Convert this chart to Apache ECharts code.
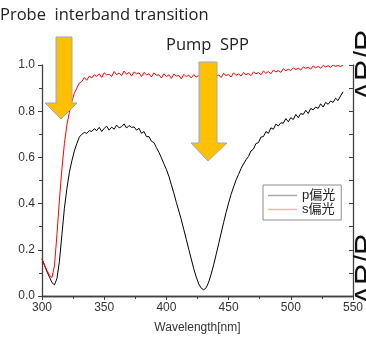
<!DOCTYPE html>
<html>
<head>
<meta charset="utf-8">
<script src="https://cdn.jsdelivr.net/npm/echarts@6/dist/echarts.min.js"></script>
<style>
  html, body { margin: 0; padding: 0; background: #fff; }
  #chart { width: 366px; height: 340px; }
</style>
</head>
<body>
<div id="chart"></div>
<script>
// wavelength samples (nm)
const wavelength = [
  300, 302, 304, 306, 308, 310, 312, 314, 316, 318, 320, 322, 324, 326, 328, 330, 332, 334, 336, 338,
  340, 342, 344, 346, 348, 350, 352, 354, 356, 358, 360, 362, 364, 366, 368, 370, 372, 374, 376, 378,
  380, 382, 384, 386, 388, 390, 392, 394, 396, 398, 400, 402, 404, 406, 408, 410, 412, 414, 416, 418,
  420, 422, 424, 426, 428, 430, 432, 434, 436, 438, 440, 442, 444, 446, 448, 450, 452, 454, 456, 458,
  460, 462, 464, 466, 468, 470, 472, 474, 476, 478, 480, 482, 484, 486, 488, 490, 492, 494, 496, 498,
  500, 502, 504, 506, 508, 510, 512, 514, 516, 518, 520, 522, 524, 526, 528, 530, 532, 534, 536, 538,
  540, 542
];

// p-polarised reflectance
const pPol = [
  0.160, 0.132, 0.105, 0.082, 0.058, 0.048, 0.075, 0.150, 0.265, 0.380, 0.465, 0.535, 0.585, 0.628, 0.660, 0.688, 0.700, 0.708, 0.704, 0.716,
  0.712, 0.724, 0.716, 0.730, 0.712, 0.726, 0.735, 0.718, 0.731, 0.722, 0.740, 0.728, 0.733, 0.745, 0.727, 0.738, 0.730, 0.732, 0.718, 0.726,
  0.704, 0.712, 0.690, 0.690, 0.670, 0.664, 0.642, 0.622, 0.598, 0.572, 0.548, 0.518, 0.482, 0.445, 0.405, 0.368, 0.330, 0.288, 0.245, 0.202,
  0.160, 0.118, 0.082, 0.052, 0.034, 0.027, 0.036, 0.060, 0.095, 0.135, 0.180, 0.226, 0.272, 0.318, 0.362, 0.402, 0.440, 0.472, 0.502, 0.526,
  0.552, 0.572, 0.590, 0.604, 0.628, 0.636, 0.660, 0.664, 0.688, 0.690, 0.712, 0.704, 0.728, 0.722, 0.744, 0.736, 0.750, 0.748, 0.768, 0.754,
  0.772, 0.764, 0.786, 0.772, 0.790, 0.786, 0.804, 0.790, 0.812, 0.806, 0.818, 0.812, 0.832, 0.818, 0.838, 0.830, 0.844, 0.838, 0.856, 0.846,
  0.866, 0.884
];

// s-polarised reflectance
const sPol = [
  0.160, 0.135, 0.110, 0.090, 0.080, 0.130, 0.265, 0.415, 0.550, 0.660, 0.740, 0.795, 0.842, 0.878, 0.900, 0.922, 0.928, 0.946, 0.934, 0.952,
  0.944, 0.958, 0.950, 0.962, 0.946, 0.966, 0.957, 0.960, 0.950, 0.972, 0.958, 0.966, 0.954, 0.974, 0.960, 0.968, 0.952, 0.970, 0.962, 0.966,
  0.950, 0.968, 0.958, 0.962, 0.948, 0.966, 0.955, 0.958, 0.944, 0.962, 0.950, 0.958, 0.942, 0.961, 0.952, 0.955, 0.940, 0.960, 0.949, 0.956,
  0.944, 0.958, 0.948, 0.954, 0.940, 0.960, 0.950, 0.956, 0.944, 0.962, 0.952, 0.957, 0.946, 0.964, 0.954, 0.960, 0.948, 0.966, 0.955, 0.962,
  0.952, 0.968, 0.958, 0.964, 0.954, 0.970, 0.962, 0.967, 0.958, 0.974, 0.964, 0.972, 0.962, 0.978, 0.970, 0.976, 0.968, 0.984, 0.975, 0.982,
  0.976, 0.988, 0.980, 0.986, 0.978, 0.992, 0.985, 0.990, 0.982, 0.996, 0.988, 0.994, 0.986, 0.998, 0.992, 0.997, 0.990, 1.000, 0.994, 0.998,
  0.993, 1.000
];

const seriesNames = ['p偏光', 's偏光'];
const legendColors = ['#a8a8a8', '#ffb0b0'];

const chart = echarts.init(document.getElementById('chart'), null, { renderer: 'canvas' });

const axisLine = { lineStyle: { color: '#404040', width: 1.3 } };
const labelFont = { color: '#333', fontSize: 12, fontFamily: 'Liberation Sans, Arial, sans-serif' };
const textFont = '"Open Sans", Lato, sans-serif';
const arrowStyle = { fill: '#ffc000', stroke: '#8eaad0', lineWidth: 1 };

const option = {
  animation: false,
  backgroundColor: '#fff',
  grid: { left: 42, right: 11, top: 65, bottom: 44 },
  legend: {
    orient: 'vertical',
    left: 263,
    top: 185,
    padding: [4, 6, 4, 5],
    itemGap: 1,
    itemWidth: 29,
    itemHeight: 1.5,
    borderColor: '#8c8c8c',
    borderWidth: 1,
    backgroundColor: '#fff',
    textStyle: { color: '#222', fontSize: 13, fontFamily: 'Liberation Sans, "Noto Sans CJK JP", sans-serif' },
    data: seriesNames.map((n, i) => ({
      name: n,
      icon: 'rect',
      itemStyle: { color: legendColors[i], borderWidth: 0 },
      lineStyle: { color: legendColors[i], width: 0 }
    }))
  },
  xAxis: [
    {
      type: 'value', position: 'bottom', min: 300, max: 550, interval: 50,
      name: 'Wavelength[nm]', nameLocation: 'middle', nameGap: 26,
      nameTextStyle: labelFont,
      axisLine: axisLine,
      axisTick: { show: true, inside: false, length: 4, lineStyle: { color: '#404040' } },
      minorTick: { show: true, splitNumber: 2, length: 3, lineStyle: { color: '#404040' } },
      splitLine: { show: false },
      axisLabel: Object.assign({ margin: 6 }, labelFont)
    },
    {
      type: 'value', position: 'top', min: 300, max: 550, interval: 50,
      axisLine: axisLine,
      axisTick: { show: true, inside: true, length: 4, lineStyle: { color: '#404040' } },
      minorTick: { show: true, splitNumber: 2, length: 3, lineStyle: { color: '#404040' } },
      splitLine: { show: false },
      axisLabel: { show: false }
    }
  ],
  yAxis: [
    {
      type: 'value', position: 'left', min: 0, max: 1, interval: 0.2,
      axisLine: Object.assign({ show: true }, axisLine),
      axisTick: { show: true, inside: false, length: 4, lineStyle: { color: '#404040' } },
      minorTick: { show: true, splitNumber: 2, length: 3, lineStyle: { color: '#404040' } },
      splitLine: { show: false },
      axisLabel: Object.assign({ margin: 7, formatter: v => v.toFixed(1) }, labelFont)
    },
    {
      type: 'value', position: 'right', min: 0, max: 1, interval: 0.2,
      axisLine: Object.assign({ show: true }, axisLine),
      axisTick: { show: true, inside: true, length: 4, lineStyle: { color: '#404040' } },
      minorTick: { show: true, splitNumber: 2, length: 4, lineStyle: { color: '#404040' } },
      splitLine: { show: false },
      axisLabel: { show: false }
    }
  ],
  series: [
    {
      name: seriesNames[0], type: 'line', showSymbol: false, symbol: 'none',
      color: '#000',
      lineStyle: { color: '#000', width: 1 },
      data: wavelength.map((w, i) => [w, pPol[i]])
    },
    {
      name: seriesNames[1], type: 'line', showSymbol: false, symbol: 'none',
      color: '#ff0000',
      lineStyle: { color: '#ff0000', width: 1 },
      data: wavelength.map((w, i) => [w, sPol[i]])
    }
  ],
  graphic: [
    {
      type: 'text', left: 0, top: 7, z: 100,
      style: { text: 'Probe  interband transition', fill: '#222', font: '16.5px ' + textFont }
    },
    {
      type: 'text', left: 166, top: 37, z: 100,
      style: { text: 'Pump  SPP', fill: '#222', font: '16.5px ' + textFont }
    },
    {
      type: 'polygon', z: 100,
      shape: { points: [[56, 37], [72, 37], [72, 103], [77, 103], [61, 119], [45, 103], [56, 103]] },
      style: arrowStyle
    },
    {
      type: 'polygon', z: 100,
      shape: { points: [[199, 62], [217, 62], [217, 143], [227, 143], [208, 161], [191, 143], [199, 143]] },
      style: arrowStyle
    },
    {
      type: 'text', x: 352, y: 101, rotation: Math.PI / 2, z: 100,
      style: { text: 'ΔR/R', fill: '#111', font: '30px Liberation Sans, Arial, sans-serif', textVerticalAlign: 'top' }
    },
    {
      type: 'text', x: 352, y: 305, rotation: Math.PI / 2, z: 100,
      style: { text: 'ΔR/R', fill: '#111', font: '30px Liberation Sans, Arial, sans-serif', textVerticalAlign: 'top' }
    }
  ]
};

chart.setOption(option);
</script>
</body>
</html>
